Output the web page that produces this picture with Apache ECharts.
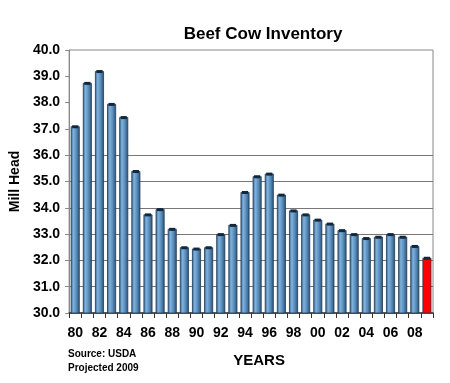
<!DOCTYPE html>
<html><head><meta charset="utf-8">
<script src="https://cdn.jsdelivr.net/npm/echarts@6/dist/echarts.min.js"></script>
<style>html,body{margin:0;padding:0;background:#fff}#c{width:450px;height:383px}</style>
</head><body><div id="c"></div>
<script>
const years = ['80','81','82','83','84','85','86','87','88','89','90','91','92','93','94','95','96','97','98','99','00','01','02','03','04','05','06','07','08','09'];
const inventory = [37.1,38.75,39.2,37.95,37.45,35.4,33.75,33.95,33.2,32.5,32.45,32.5,33.0,33.35,34.6,35.2,35.3,34.5,33.9,33.75,33.55,33.4,33.15,33.0,32.85,32.9,33.0,32.9,32.55,32.1];
const projectedYear = '09';
const gridValues = [31,32,33,34,35,36];
const yMin = 30, yMax = 40;

const blue = {type:'linear',x:0,y:0,x2:1,y2:0,colorStops:[
  {offset:0,color:'#335f88'},{offset:0.3,color:'#80b2dc'},{offset:0.6,color:'#5b90c0'},{offset:1,color:'#2a5070'}]};
const red = '#ff0000';

const barData = inventory.map((v,i)=>({value:v,itemStyle:{color: years[i]===projectedYear ? red : blue}}));
const splitColors = [];
for (let v = yMin; v <= yMax; v++) splitColors.push(gridValues.includes(v) ? '#777' : 'rgba(0,0,0,0)');

const chart = echarts.init(document.getElementById('c'));
chart.setOption({
  animation:false,
  title:{text:'Beef Cow Inventory',left:258,top:21,textAlign:'center',
    textStyle:{fontFamily:'Liberation Sans',fontWeight:'bold',fontSize:17,color:'#000'}},
  grid:{left:67,right:17,top:50,bottom:70,show:true,borderColor:'#888',borderWidth:1},
  xAxis:{type:'category',data:years,
    axisLine:{lineStyle:{color:'#333',width:1.5}},
    axisTick:{show:true,interval:0,length:5,lineStyle:{color:'#333'}},
    axisLabel:{interval:1,fontFamily:'Liberation Sans',fontWeight:'bold',fontSize:14,color:'#000',margin:13},
    name:'YEARS',nameLocation:'middle',nameGap:40,
    nameTextStyle:{fontFamily:'Liberation Sans',fontWeight:'bold',fontSize:15,color:'#000',padding:[0,0,0,16]}},
  yAxis:{type:'value',min:yMin,max:yMax,interval:1,
    axisLine:{show:true,lineStyle:{color:'#888'}},
    axisTick:{show:true,length:4,lineStyle:{color:'#888'}},
    splitLine:{show:true,lineStyle:{color:splitColors,width:1.2}},
    axisLabel:{formatter:v=>v.toFixed(1),fontFamily:'Liberation Sans',fontWeight:'bold',fontSize:14,color:'#000',margin:9},
    name:'Mill Head',nameLocation:'middle',nameGap:32,nameRotate:90,
    nameTextStyle:{fontFamily:'Liberation Sans',fontWeight:'bold',fontSize:14,color:'#000'}},
  graphic:[
    {type:'text',left:68,top:347,style:{text:'Source: USDA\nProjected 2009',fontFamily:'Liberation Sans',fontWeight:'bold',fontSize:10,lineHeight:14,fill:'#000'}}
  ],
  series:[
    {type:'bar',data:barData,barCategoryGap:'26%',z:3,
      itemStyle:{borderColor:'#1f3a55',borderWidth:0.8}},
    {type:'pictorialBar',data:inventory,symbol:'rect',symbolPosition:'end',symbolSize:['74%',3],
      symbolOffset:[0,-1],z:4,silent:true,itemStyle:{color:'#13273a'}}
  ]
});
</script></body></html>
